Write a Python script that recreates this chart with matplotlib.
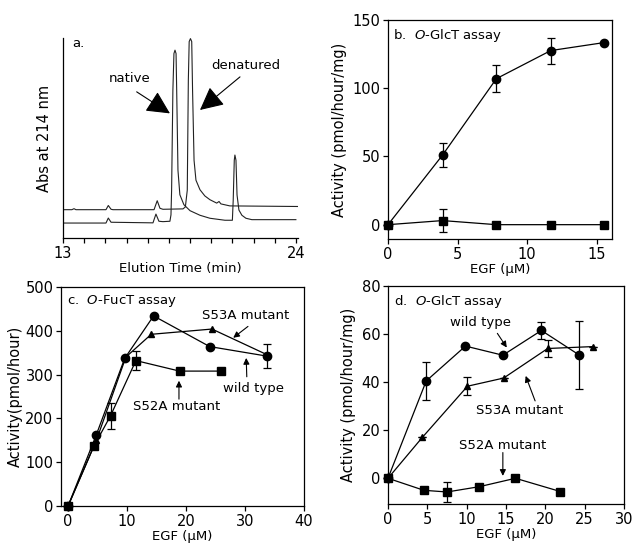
import matplotlib
matplotlib.use("Agg")
import matplotlib.pyplot as plt

plt.rcParams["font.family"] = ["DejaVu Sans"]
plt.rcParams["axes.linewidth"] = 0.9
plt.rcParams["xtick.major.width"] = 0.9
plt.rcParams["ytick.major.width"] = 0.9
plt.rcParams["xtick.major.size"] = 3.5
plt.rcParams["ytick.major.size"] = 3.5

# ---- panel a: chromatogram traces ----
denat_t = [13.0, 13.42, 13.52, 13.61, 15.03, 15.14, 15.27, 15.36, 17.30, 17.45, 17.58,
           17.72, 18.67, 18.78, 18.87, 18.92, 18.96, 19.02, 19.08, 19.12, 19.19, 19.28,
           19.47, 19.70, 19.94, 20.26, 20.37, 20.46, 20.88, 24.1]
denat_abs = [14.2, 14.2, 14.7, 14.2, 14.2, 16.3, 14.4, 14.2, 14.2, 18.7, 14.9,
             14.4, 14.6, 15.6, 24.0, 79.0, 98.5, 100.0, 98.5, 74.0, 39.0, 29.0,
             24.2, 21.1, 19.2, 17.5, 18.3, 17.1, 16.1, 15.8]
native_t = [13.0, 15.03, 15.14, 15.27, 17.25, 17.39, 17.53, 17.72, 18.05, 18.10, 18.13,
            18.19, 18.24, 18.29, 18.34, 18.37, 18.43, 18.52, 18.71, 19.0, 19.47, 19.94,
            20.65, 21.0, 21.04, 21.09, 21.12, 21.17, 21.22, 21.31, 21.45, 21.64, 21.92, 24.0]
native_abs = [7.5, 7.5, 10.0, 7.9, 7.6, 12.0, 8.4, 8.2, 8.4, 11.6, 24.0,
              74.0, 92.5, 94.2, 92.5, 74.0, 34.0, 21.7, 16.7, 13.7, 11.4, 9.9,
              8.9, 8.9, 19.0, 39.0, 41.6, 39.0, 21.6, 14.0, 11.4, 9.9, 9.2, 9.2]

# ---- panel b: O-GlcT assay ----
b_egf = [0, 3.92, 7.79, 11.7, 15.5]
b_wt = [0, 51, 107, 127.6, 133.4]
b_wt_err = [0, 9, 10, 9.5, 0]
b_ctrl = [0, 3, 0, 0, 0]
b_ctrl_err = [0, 8.5, 0, 0, 0]

# ---- panel c: O-FucT assay ----
c_wt_egf = [0, 4.8, 9.6, 14.5, 24.0, 33.8]
c_wt = [0, 163, 337, 434, 364, 342]
c_wt_err = [0, 0, 0, 0, 0, 28]
c_s53a_egf = [0, 4.8, 9.8, 14.1, 24.4, 33.8]
c_s53a = [0, 150, 340, 392, 404, 345]
c_s52a_egf = [0, 4.35, 7.2, 11.5, 18.9, 26.0]
c_s52a = [0, 136, 206, 332, 308, 308]
c_s52a_err = [0, 0, 30, 22, 0, 0]

# ---- panel d: O-GlcT assay with mutants ----
d_wt_egf = [0, 4.86, 9.85, 14.6, 19.5, 24.3]
d_wt = [0, 40.5, 55, 51.2, 61.5, 51.3]
d_wt_err = [0, 7.8, 0, 0, 3.5, 14.3]
d_s53a_egf = [0, 4.36, 10.1, 14.7, 20.3, 26.1]
d_s53a = [0, 17, 38.3, 41.7, 54, 54.8]
d_s53a_err = [0, 0, 3.8, 0, 3.6, 0]
d_s52a_egf = [0, 4.56, 7.5, 11.6, 16.2, 21.9]
d_s52a = [0, -5, -5.7, -3.5, 0, -5.5]
d_s52a_err = [0, 0, 4.3, 0, 0, 0]

fig = plt.figure(figsize=(6.32, 5.51), dpi=100)

TICK_FS = 10.5
YLAB_FS = 10.5
XLAB_FS = 9.5
TXT_FS = 9.5

small_arrow = dict(arrowstyle="-|>", color="k", lw=0.8, mutation_scale=9,
                   shrinkA=0, shrinkB=0)


def series(ax, x, y, err, marker, ms):
    ax.errorbar(x, y, yerr=err, color="k", lw=0.9, marker=marker, ms=ms,
                capsize=3, elinewidth=0.9, capthick=0.9, clip_on=False, zorder=3)


def style(ax):
    ax.tick_params(direction="out", labelsize=TICK_FS, pad=2)
    for s in ax.spines.values():
        s.set_linewidth(0.9)


# panel a
axa = fig.add_axes([63 / 632, 1 - 238 / 551, 235 / 632, 200 / 551])
axa.plot(denat_t, denat_abs, color="#222222", lw=0.8)
axa.plot(native_t, native_abs, color="#222222", lw=0.8)
axa.set_xlim(13, 24.1)
axa.set_ylim(0, 100.3)
axa.spines["top"].set_visible(False)
axa.spines["right"].set_visible(False)
axa.set_yticks([])
axa.set_xticks(list(range(13, 25)))
axa.set_xticklabels(["13"] + [""] * 10 + ["24"])
style(axa)
axa.set_xlabel("Elution Time (min)", fontsize=XLAB_FS, labelpad=1)
axa.set_ylabel("Abs at 214 nm", fontsize=YLAB_FS, labelpad=8)
axa.text(13.42, 97.6, "a.", fontsize=TXT_FS, va="center")
big_arrow = dict(arrowstyle="-|>,head_length=0.9,head_width=0.45", color="k",
                 lw=0.8, mutation_scale=16, shrinkA=0, shrinkB=0)
axa.annotate("", xy=(18.05, 62.5), xytext=(16.48, 73.3), arrowprops=big_arrow)
axa.annotate("", xy=(19.47, 64.2), xytext=(21.36, 80.8), arrowprops=big_arrow)
axa.text(16.16, 80.2, "native", fontsize=TXT_FS, ha="center", va="center")
axa.text(21.64, 86.6, "denatured", fontsize=TXT_FS, ha="center", va="center")

# panel b
axb = fig.add_axes([388 / 632, 1 - 239 / 551, 224 / 632, 219 / 551])
series(axb, b_egf, b_wt, b_wt_err, "o", 6)
series(axb, b_egf, b_ctrl, b_ctrl_err, "s", 5.5)
axb.set_xlim(0, 16.1)
axb.set_ylim(-10.5, 150)
axb.set_xticks([0, 5, 10, 15])
axb.set_yticks([0, 50, 100, 150])
style(axb)
axb.set_xlabel("EGF (μM)", fontsize=XLAB_FS, labelpad=1)
axb.set_ylabel("Activity (pmol/hour/mg)", fontsize=YLAB_FS, labelpad=4)
axb.text(0.022, 0.928, r"b.  $\it{O}$-GlcT assay", transform=axb.transAxes,
         fontsize=TXT_FS, va="center")

# panel c
axc = fig.add_axes([61 / 632, 1 - 506 / 551, 243 / 632, 219 / 551])
series(axc, c_wt_egf, c_wt, c_wt_err, "o", 6)
series(axc, c_s53a_egf, c_s53a, None, "^", 4)
series(axc, c_s52a_egf, c_s52a, c_s52a_err, "s", 5.5)
axc.set_xlim(-1.2, 40)
axc.set_ylim(0, 500)
axc.set_xticks([0, 10, 20, 30, 40])
axc.set_yticks([0, 100, 200, 300, 400, 500])
style(axc)
axc.set_xlabel("EGF (μM)", fontsize=XLAB_FS, labelpad=1)
axc.set_ylabel("Activity(pmol/hour)", fontsize=YLAB_FS, labelpad=2)
axc.text(0.023, 0.936, r"c.  $\it{O}$-FucT assay", transform=axc.transAxes,
         fontsize=TXT_FS, va="center")
axc.annotate("", xy=(28, 384), xytext=(30.5, 410), arrowprops=small_arrow)
axc.text(30.1, 435, "S53A mutant", fontsize=TXT_FS, ha="center", va="center")
axc.annotate("", xy=(30.2, 338), xytext=(30.3, 295), arrowprops=small_arrow)
axc.text(31.5, 269, "wild type", fontsize=TXT_FS, ha="center", va="center")
axc.annotate("", xy=(18.8, 286), xytext=(18.8, 244), arrowprops=small_arrow)
axc.text(18.4, 227, "S52A mutant", fontsize=TXT_FS, ha="center", va="center")

# panel d
axd = fig.add_axes([388 / 632, 1 - 504 / 551, 236 / 632, 218 / 551])
series(axd, d_wt_egf, d_wt, d_wt_err, "o", 6)
series(axd, d_s53a_egf, d_s53a, d_s53a_err, "^", 4)
series(axd, d_s52a_egf, d_s52a, d_s52a_err, "s", 5.5)
axd.set_xlim(0, 30)
axd.set_ylim(-10.7, 80)
axd.set_xticks([0, 5, 10, 15, 20, 25, 30])
axd.set_yticks([0, 20, 40, 60, 80])
style(axd)
axd.set_xlabel("EGF (μM)", fontsize=XLAB_FS, labelpad=1)
axd.set_ylabel("Activity (pmol/hour/mg)", fontsize=YLAB_FS, labelpad=4)
axd.text(0.024, 0.931, r"d.  $\it{O}$-GlcT assay", transform=axd.transAxes,
         fontsize=TXT_FS, va="center")
axd.annotate("", xy=(15.1, 54.4), xytext=(13.9, 60.3), arrowprops=small_arrow)
axd.text(11.8, 64.8, "wild type", fontsize=TXT_FS, ha="center", va="center")
axd.annotate("", xy=(17.5, 42.6), xytext=(18.7, 32.2), arrowprops=small_arrow)
axd.text(16.7, 28, "S53A mutant", fontsize=TXT_FS, ha="center", va="center")
axd.annotate("", xy=(14.6, 1.0), xytext=(14.6, 10.7), arrowprops=small_arrow)
axd.text(14.6, 13.5, "S52A mutant", fontsize=TXT_FS, ha="center", va="center")

fig.savefig("out.png", dpi=100)
